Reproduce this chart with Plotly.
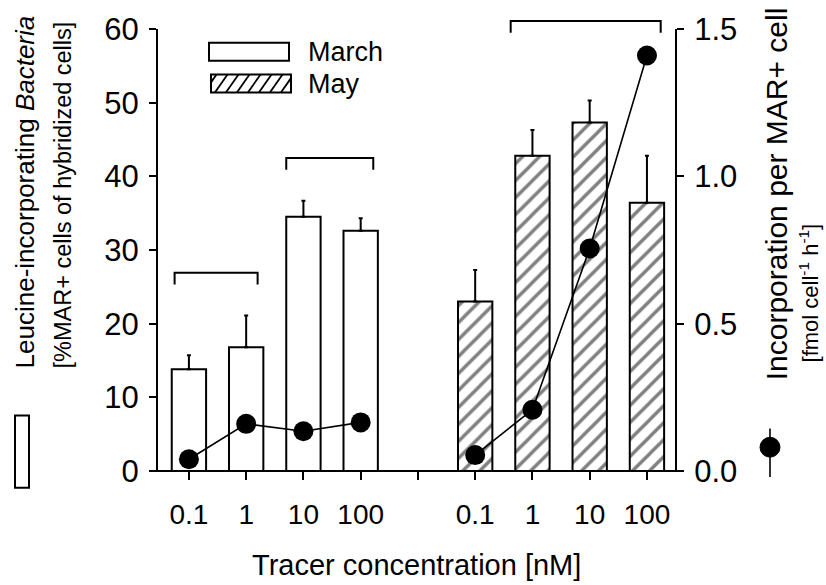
import plotly.graph_objects as go

# ---- data ---------------------------------------------------------------
conc_labels = ["0.1", "1", "10", "100"]
x_march = [1, 2, 3, 4]
x_may = [6, 7, 8, 9]

# % of hybridized cells that are MAR+ (left axis), with upper error
march_pct = [13.8, 16.8, 34.5, 32.6]
march_err = [1.9, 4.3, 2.2, 1.7]
may_pct = [23.0, 42.8, 47.3, 36.4]
may_err = [4.3, 3.5, 3.0, 6.4]

# incorporation per MAR+ cell (right axis)
march_rate = [0.04, 0.16, 0.135, 0.165]
may_rate = [0.054, 0.208, 0.755, 1.41]

# ---- geometry of the canvas ----------------------------------------------
W, H = 826, 585
ML, MR, MT, MB = 158, 151, 25, 114
PW, PH = W - ML - MR, H - MT - MB
Y_MAX = 60
Y2_MAX = 1.5
X_RANGE = [0.46, 9.49]

FONT = "Liberation Sans, Arial, sans-serif"


def pxx(x):
    """canvas pixel x -> paper x"""
    return (x - ML) / PW


def pxy(y):
    """canvas pixel y -> paper y"""
    return (H - MB - y) / PH


fig = go.Figure()

err_style = dict(type="data", symmetric=False, color="black",
                 thickness=2, width=2)

fig.add_trace(go.Bar(
    x=x_march, y=march_pct, width=0.6, name="March",
    marker=dict(color="white", line=dict(color="black", width=2)),
    error_y=dict(array=march_err, arrayminus=[0] * len(march_err), **err_style),
    showlegend=False,
))
fig.add_trace(go.Bar(
    x=x_may, y=may_pct, width=0.6, name="May",
    marker=dict(color="white", line=dict(color="black", width=2),
                pattern=dict(shape="/", size=12, solidity=0.28,
                             fgcolor="black", bgcolor="white",
                             fillmode="overlay")),
    error_y=dict(array=may_err, arrayminus=[0] * len(may_err), **err_style),
    showlegend=False,
))

line_style = dict(mode="lines+markers", yaxis="y2", showlegend=False,
                  line=dict(color="black", width=1.6),
                  marker=dict(color="black", size=20))
fig.add_trace(go.Scatter(x=x_march, y=march_rate, **line_style))
fig.add_trace(go.Scatter(x=x_may, y=may_rate, **line_style))

shapes = []

# baseline running slightly past both vertical axes
shapes.append(dict(type="line", xref="paper", yref="paper",
                   x0=pxx(150), x1=pxx(682), y0=0, y1=0,
                   line=dict(color="black", width=2)))

# brackets grouping bars: (x start, x end, level on left axis)
brackets = [(0.75, 2.2, 26.9), (2.7, 4.22, 42.5), (6.62, 9.24, 61.1)]
drop = 1.6
for x0, x1, lvl in brackets:
    yt, yb = lvl / Y_MAX, (lvl - drop) / Y_MAX
    shapes.append(dict(type="path", xref="x", yref="paper",
                       path=f"M{x0},{yb} L{x0},{yt} L{x1},{yt} L{x1},{yb}",
                       line=dict(color="black", width=2)))

# legend boxes
box_line = dict(color="black", width=2)
shapes.append(dict(type="rect", xref="paper", yref="paper",
                   x0=pxx(209), x1=pxx(289), y0=pxy(57), y1=pxy(39),
                   line=box_line, fillcolor="white"))


def hatch(x0, x1, y0, y1, step=11, slope=0.7):
    """'/' hatch lines inside a pixel box (y grows downward)"""
    out = []
    c = x0 + slope * y0 + step / 2
    while c < x1 + slope * y1:
        xa = max(x0, c - slope * y1)
        xb = min(x1, c - slope * y0)
        if xb > xa:
            ya = (c - xa) / slope
            yb = (c - xb) / slope
            out.append(dict(type="line", xref="paper", yref="paper",
                            x0=pxx(xa), y0=pxy(ya), x1=pxx(xb), y1=pxy(yb),
                            line=dict(color="black", width=1.8)))
        c += step
    return out


shapes.append(dict(type="rect", xref="paper", yref="paper",
                   x0=pxx(211), x1=pxx(291), y0=pxy(89), y1=pxy(71),
                   line=box_line, fillcolor="white"))
shapes += hatch(211, 291, 71, 89)

# axis-title symbols
shapes.append(dict(type="rect", xref="paper", yref="paper",
                   x0=pxx(15), x1=pxx(29), y0=pxy(488), y1=pxy(415),
                   line=box_line, fillcolor="white"))
shapes.append(dict(type="line", xref="paper", yref="paper",
                   x0=pxx(770), x1=pxx(770), y0=pxy(477), y1=pxy(428),
                   line=dict(color="black", width=1.6)))
shapes.append(dict(type="circle", xref="paper", yref="paper",
                   x0=pxx(760), x1=pxx(780), y0=pxy(457), y1=pxy(437),
                   line=dict(color="black", width=1), fillcolor="black"))

annotations = [
    dict(text="March", x=pxx(306), y=pxy(48), xanchor="left",
         yanchor="middle", font=dict(size=27)),
    dict(text="May", x=pxx(306), y=pxy(81), xanchor="left",
         yanchor="middle", font=dict(size=27)),
    dict(text="Tracer concentration [nM]", x=0.5, y=pxy(566),
         xanchor="center", yanchor="middle", font=dict(size=29)),
    dict(text="Leucine-incorporating <i>Bacteria</i>", textangle=-90,
         x=pxx(25), y=pxy(370), xanchor="center", yanchor="bottom",
         font=dict(size=26)),
    dict(text="[%MAR+ cells of hybridized cells]", textangle=-90,
         x=pxx(63), y=pxy(370), xanchor="center", yanchor="bottom",
         font=dict(size=23.5)),
    dict(text="Incorporation per MAR+ cell", textangle=-90,
         x=pxx(776), y=pxy(382), xanchor="center", yanchor="bottom",
         font=dict(size=30)),
    dict(text="[fmol cell<sup>-1</sup> h<sup>-1</sup>]", textangle=-90,
         x=pxx(809), y=pxy(364), xanchor="center", yanchor="bottom",
         font=dict(size=22)),
]
for a in annotations:
    a.setdefault("xref", "paper")
    a.setdefault("yref", "paper")
    a["showarrow"] = False
    a["font"] = dict(family=FONT, color="black", **a["font"])

tick_vals = [1, 2, 3, 4, 5, 6, 7, 8, 9]
tick_text = conc_labels + [" "] + conc_labels

fig.update_layout(
    width=W, height=H,
    margin=dict(l=ML, r=MR, t=MT, b=MB, pad=0),
    paper_bgcolor="white", plot_bgcolor="white",
    barmode="overlay",
    font=dict(family=FONT, color="black", size=28),
    xaxis=dict(range=X_RANGE, tickvals=tick_vals, ticktext=tick_text,
               showline=False,
               ticks="outside", ticklen=8, tickwidth=2, tickcolor="black",
               showgrid=False, zeroline=False, ticklabelstandoff=10,
               tickfont=dict(size=28)),
    yaxis=dict(range=[0, Y_MAX], tickvals=[0, 10, 20, 30, 40, 50, 60],
               showline=True, linecolor="black", linewidth=2,
               ticks="outside", ticklen=7, tickwidth=2, tickcolor="black",
               showgrid=False, zeroline=False, ticklabelstandoff=4,
               tickfont=dict(size=31)),
    yaxis2=dict(range=[0, Y2_MAX], overlaying="y", side="right",
                tickvals=[0, 0.5, 1.0, 1.5], tickformat=".1f",
                showline=True, linecolor="black", linewidth=2,
                ticks="outside", ticklen=7, tickwidth=2, tickcolor="black",
                showgrid=False, zeroline=False, ticklabelstandoff=4,
                tickfont=dict(size=31)),
    shapes=shapes,
    annotations=annotations,
)

fig.write_html("out.html")
